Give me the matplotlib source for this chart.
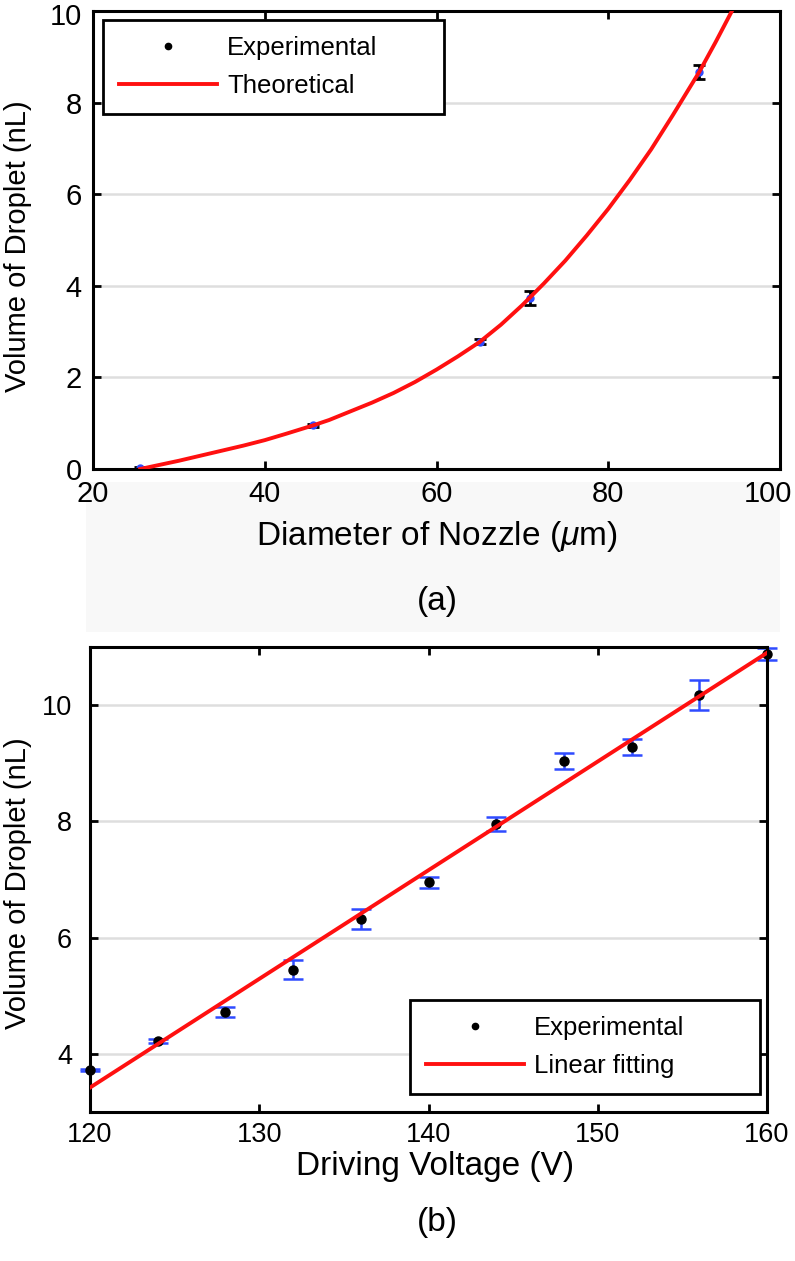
import matplotlib
matplotlib.use('Agg')
import matplotlib.pyplot as plt
import matplotlib.transforms as mtransforms
from matplotlib.lines import Line2D
from matplotlib.patches import Rectangle

plt.rcParams['font.family'] = ['Liberation Sans', 'DejaVu Sans']
plt.rcParams['mathtext.fontset'] = 'custom'
plt.rcParams['mathtext.it'] = 'Liberation Sans:italic'

# (a) nozzle diameter vs droplet volume
nozzle_d = [25.5, 45.6, 65.1, 70.9, 90.6]
nozzle_vol = [0.02, 0.95, 2.78, 3.74, 8.67]
nozzle_err = [0.02, 0.03, 0.05, 0.15, 0.16]
# theoretical curve
theory_d = [25.5, 27.5, 30, 32.5, 35, 37.5, 40, 42.5, 45.6, 47.5, 50, 52.5, 55, 57.5,
            60, 62.5, 65, 67.5, 70, 72.5, 75, 77.5, 80, 82.5, 85, 87.5, 90.6, 92.5, 94.4]
theory_vol = [0.0, 0.08, 0.18, 0.29, 0.40, 0.51, 0.63, 0.77, 0.95, 1.07, 1.26, 1.45, 1.66, 1.90,
              2.17, 2.46, 2.77, 3.15, 3.58, 4.05, 4.55, 5.10, 5.68, 6.31, 6.98, 7.72, 8.67, 9.32, 10.0]

# (b) driving voltage vs droplet volume
voltage = [120, 124, 128, 132, 136, 140, 144, 148, 152, 156, 160]
volt_vol = [3.72, 4.22, 4.72, 5.45, 6.32, 6.95, 7.95, 9.04, 9.28, 10.18, 10.88]
volt_err = [0.02, 0.03, 0.08, 0.16, 0.18, 0.10, 0.12, 0.14, 0.14, 0.26, 0.10]
fit_v = [120, 160]
fit_vol = [3.42, 10.9]

RED = '#ff1010'
BLUE = '#2f4bff'
LEG_FS = 18.5

fig = plt.figure(figsize=(7.95, 12.61), dpi=100)

# faint grey band behind the (a) caption
fig.patches.append(Rectangle((86 / 795, 1 - 632 / 1261), 694 / 795, 150 / 1261,
                             transform=fig.transFigure, facecolor='#f8f8f8',
                             edgecolor='none', zorder=-1))


def style_axes(ax, size):
    for s in ax.spines.values():
        s.set_linewidth(2.2)
    ax.tick_params(direction='in', length=6, width=2, top=True, right=True,
                   labelsize=size)
    ax.grid(axis='y', color='#dedede', linewidth=1.8)
    ax.set_axisbelow(True)


def make_legend(ax, labels, box):
    h = [Line2D([], [], ls='none', marker='o', ms=4.5, color='black'),
         Line2D([], [], color=RED, lw=2.8)]
    leg = ax.legend(h, labels, loc='upper left', bbox_to_anchor=box, mode='expand',
                    fontsize=LEG_FS, frameon=True, fancybox=False, framealpha=1,
                    handlelength=3.8, handletextpad=0.4, borderpad=0.62,
                    labelspacing=0.55, borderaxespad=0)
    leg.get_frame().set_edgecolor('black')
    leg.get_frame().set_linewidth(2)
    return leg


def shift(label, dx, dy):
    label.set_transform(label.get_transform() +
                        mtransforms.ScaledTranslation(dx / 100, dy / 100, fig.dpi_scale_trans))


# ---- top panel
ax1 = fig.add_axes([93 / 795, 1 - 469 / 1261, 687 / 795, 458 / 1261])
ax1.plot(theory_d, theory_vol, color=RED, lw=2.8, zorder=3)
ax1.errorbar(nozzle_d, nozzle_vol, yerr=nozzle_err, fmt='o', color=BLUE, ms=5,
             ecolor='black', elinewidth=2, capsize=4.5, capthick=2, zorder=2)
ax1.set_xlim(20, 100)
ax1.set_ylim(0, 10)
ax1.set_xticks([20, 40, 60, 80, 100])
ax1.set_yticks([0, 2, 4, 6, 8, 10])
style_axes(ax1, 21)
ax1.tick_params(pad=8)
make_legend(ax1, ['Experimental', 'Theoretical'], (0.0146, 0.98 - 0.2, 0.4964, 0.2))

# keep the edge labels inside the figure
shift(ax1.get_xticklabels()[-1], -12, 0)
shift(ax1.get_yticklabels()[-1], 0, -3)

# ---- bottom panel
ax2 = fig.add_axes([90 / 795, 1 - 1112 / 1261, 677 / 795, 465 / 1261])
ax2.plot(fit_v, fit_vol, color=RED, lw=2.8, zorder=3)
ax2.errorbar(voltage, volt_vol, yerr=volt_err, fmt='o', color='black', ms=6.5,
             ecolor=BLUE, elinewidth=1.8, capsize=7, capthick=1.8, zorder=2,
             clip_on=False)
ax2.set_xlim(120, 160)
ax2.set_ylim(3, 11)
ax2.set_xticks([120, 130, 140, 150, 160])
ax2.set_yticks([4, 6, 8, 10])
style_axes(ax2, 19.5)
ax2.tick_params(axis='x', pad=7)
ax2.tick_params(axis='y', pad=13)
make_legend(ax2, ['Experimental', 'Linear fitting'], (0.473, 0.241 - 0.2, 0.517, 0.2))

# ---- labels
for yc in (246, 883):
    fig.text(18 / 795, 1 - yc / 1261, 'Volume of Droplet (nL)', rotation=90,
             ha='center', va='center', fontsize=21,
             family=['Liberation Sans Narrow', 'Liberation Sans'])
fig.text(437 / 795, 1 - 537 / 1261, r'Diameter of Nozzle ($\mathit{\mu}$m)',
         ha='center', va='center', fontsize=24)
fig.text(437 / 795, 1 - 601 / 1261, '(a)', ha='center', va='center', fontsize=24)
fig.text(435 / 795, 1 - 1166 / 1261, 'Driving Voltage (V)',
         ha='center', va='center', fontsize=24)
fig.text(437 / 795, 1 - 1222 / 1261, '(b)', ha='center', va='center', fontsize=24)

fig.savefig('out.png', dpi=100)
